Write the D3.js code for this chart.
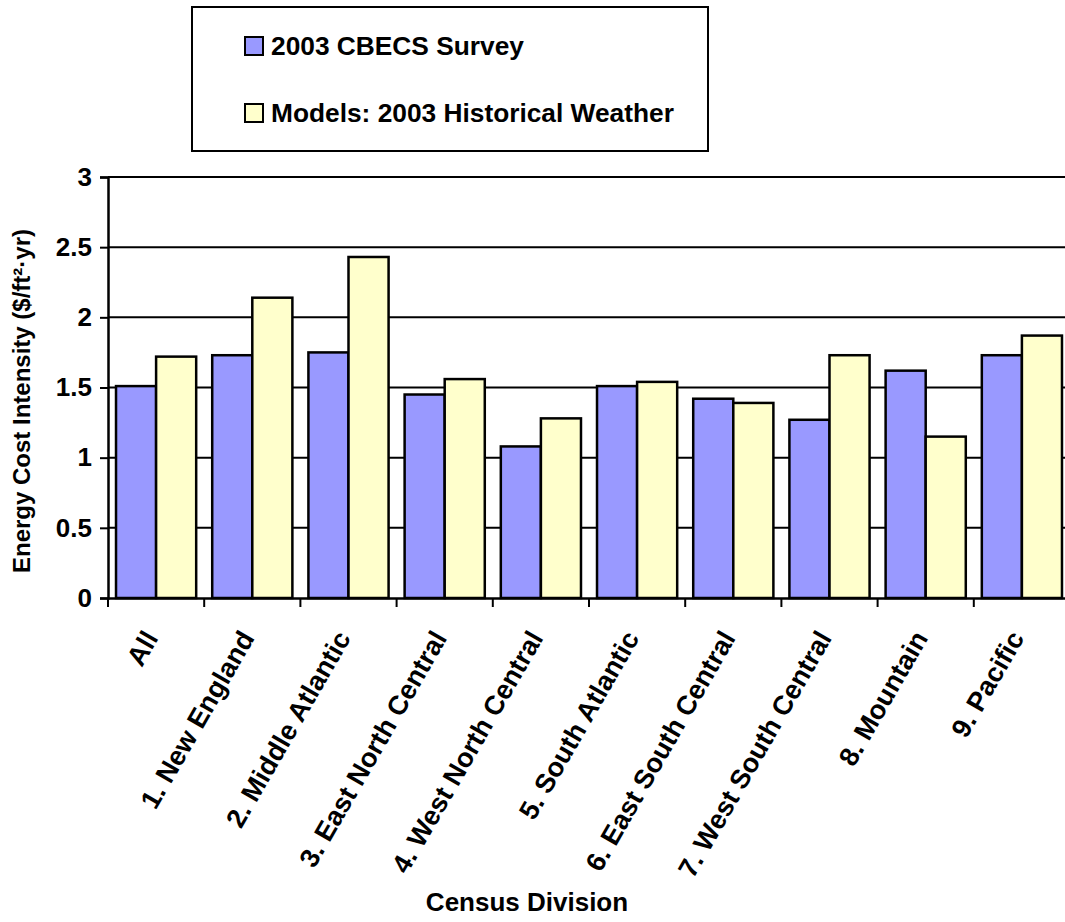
<!DOCTYPE html>
<html>
<head>
<meta charset="utf-8">
<script src="https://cdn.jsdelivr.net/npm/d3@7"></script>
<style>
  html, body { margin: 0; padding: 0; background: #fff; }
  svg { display: block; font-family: "Liberation Sans", Arial, sans-serif; font-weight: bold; }
</style>
</head>
<body>
<svg id="chart" width="1065" height="922"></svg>
<script>
// Census divisions along the x axis
const categories = [
  "All", "1. New England", "2. Middle Atlantic", "3. East North Central",
  "4. West North Central", "5. South Atlantic", "6. East South Central",
  "7. West South Central", "8. Mountain", "9. Pacific"
];
const seriesNames = ["2003 CBECS Survey", "Models: 2003 Historical Weather"];
// Energy cost intensity, $/ft²·yr
const surveyValues = [1.51, 1.73, 1.75, 1.45, 1.08, 1.51, 1.42, 1.27, 1.62, 1.73];
const modelValues  = [1.72, 2.14, 2.43, 1.56, 1.28, 1.54, 1.39, 1.73, 1.15, 1.87];
const yTicks = [0, 0.5, 1, 1.5, 2, 2.5, 3];
const yTickLabels = ["0", "0.5", "1", "1.5", "2", "2.5", "3"];
const colors = ["#9999FF", "#FFFFCC"];

const svg = d3.select("#chart");
const plotLeft = 108, plotRight = 1070, plotTop = 177, plotBottom = 598;

const x0 = d3.scaleBand().domain(categories).range([plotLeft, plotRight]).padding(0);
const x1 = d3.scaleBand().domain(seriesNames).range([0, x0.bandwidth()])
  .paddingInner(0).paddingOuter(0.2);
const y = d3.scaleLinear().domain([0, 3]).range([plotBottom, plotTop]);

const rows = categories.map((c, i) => ({ cat: c, vals: [surveyValues[i], modelValues[i]] }));

// horizontal gridlines
svg.append("g").selectAll("line")
  .data(yTicks.filter(t => t > 0))
  .join("line")
  .attr("x1", plotLeft).attr("x2", plotRight)
  .attr("y1", d => y(d)).attr("y2", d => y(d))
  .attr("stroke", "#000").attr("stroke-width", 2);

// bars
const groups = svg.append("g").selectAll("g")
  .data(rows).join("g")
  .attr("transform", d => `translate(${x0(d.cat)},0)`);
groups.selectAll("rect")
  .data(d => d.vals.map((v, k) => ({ name: seriesNames[k], v, k })))
  .join("rect")
  .attr("x", d => x1(d.name))
  .attr("width", x1.bandwidth())
  .attr("y", d => y(d.v))
  .attr("height", d => y(0) - y(d.v))
  .attr("fill", d => colors[d.k])
  .attr("stroke", "#000").attr("stroke-width", 2.5);

// y axis
const yAxis = svg.append("g")
  .attr("transform", `translate(${plotLeft},0)`)
  .call(d3.axisLeft(y).tickValues(yTicks)
    .tickFormat((d, i) => yTickLabels[i]).tickSize(8).tickPadding(8));
yAxis.select(".domain").attr("stroke", "#000").attr("stroke-width", 2.5);
yAxis.selectAll(".tick line").attr("stroke", "#000").attr("stroke-width", 2);
yAxis.selectAll("text").attr("font-size", 26).attr("font-weight", "bold")
  .attr("font-family", "Liberation Sans, Arial, sans-serif").attr("fill", "#000");

// x axis
const xAxis = svg.append("g")
  .attr("transform", `translate(0,${plotBottom})`)
  .call(d3.axisBottom(x0).tickSize(0).tickFormat(""));
xAxis.select(".domain").attr("stroke", "#000").attr("stroke-width", 2.5);
// ticks sit on band boundaries
xAxis.append("g").selectAll("line")
  .data(categories).join("line")
  .attr("x1", d => x0(d)).attr("x2", d => x0(d))
  .attr("y1", 0).attr("y2", 9)
  .attr("stroke", "#000").attr("stroke-width", 2);

// rotated category labels
svg.append("g").selectAll("text")
  .data(categories).join("text")
  .attr("transform", d => `translate(${x0(d) + x0.bandwidth() / 2 + 3},${plotBottom + 40}) rotate(-60)`)
  .attr("text-anchor", "end")
  .attr("font-size", 27)
  .attr("fill", "#000")
  .text(d => d);

// axis titles
svg.append("text")
  .attr("transform", `translate(30,401) rotate(-90)`)
  .attr("text-anchor", "middle")
  .attr("font-size", 24)
  .attr("fill", "#000")
  .text("Energy Cost Intensity ($/ft²·yr)");

svg.append("text")
  .attr("x", 527).attr("y", 911)
  .attr("text-anchor", "middle")
  .attr("font-size", 26)
  .attr("fill", "#000")
  .text("Census Division");

// legend
const legend = svg.append("g");
legend.append("rect")
  .attr("x", 192).attr("y", 7).attr("width", 516).attr("height", 144)
  .attr("fill", "#fff").attr("stroke", "#000").attr("stroke-width", 2);
const items = legend.selectAll("g.item")
  .data(seriesNames).join("g")
  .attr("class", "item")
  .attr("transform", (d, i) => `translate(245,${[46, 113][i]})`);
items.append("rect")
  .attr("x", 0).attr("y", -9).attr("width", 18).attr("height", 18)
  .attr("fill", (d, i) => colors[i]).attr("stroke", "#000").attr("stroke-width", 2);
items.append("text")
  .attr("x", 26).attr("y", 9)
  .attr("font-size", 26.3)
  .attr("fill", "#000")
  .text(d => d);
</script>
</body>
</html>
